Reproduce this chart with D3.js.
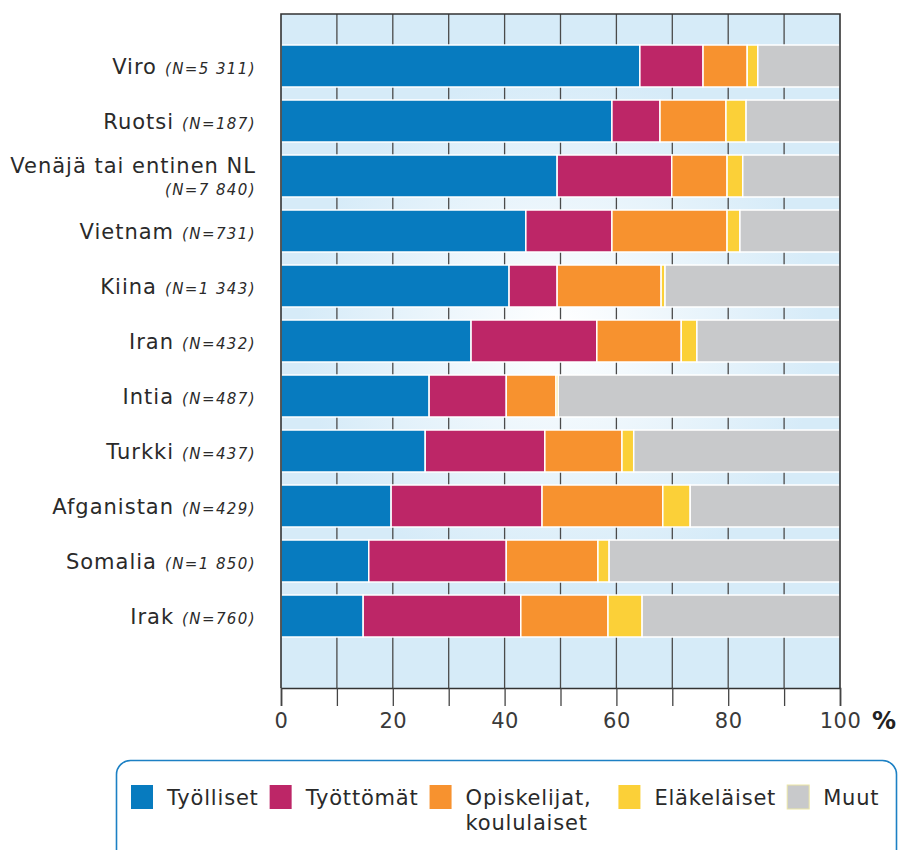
<!DOCTYPE html>
<html>
<head>
<meta charset="utf-8">
<script src="https://cdn.jsdelivr.net/npm/d3@7"></script>
<style>
  body { margin: 0; background: #fff; }
  svg { display: block; }
</style>
</head>
<body>
<script>
// maat ja otoskoot
var countries = ["Viro", "Ruotsi", "Venäjä tai entinen NL", "Vietnam", "Kiina", "Iran",
                 "Intia", "Turkki", "Afganistan", "Somalia", "Irak"];
var sampleSizes = ["(N=5 311)", "(N=187)", "(N=7 840)", "(N=731)", "(N=1 343)", "(N=432)",
                   "(N=487)", "(N=437)", "(N=429)", "(N=1 850)", "(N=760)"];

// osuudet prosentteina
var tyolliset   = [64.2, 59.2, 49.4, 43.8, 40.8, 34.0, 26.5, 25.8, 19.7, 15.7, 14.7];
var tyottomat   = [11.3,  8.6, 20.5, 15.4,  8.6, 22.5, 13.8, 21.4, 27.0, 24.6, 28.2];
var opiskelijat = [ 7.9, 11.8,  9.9, 20.6, 18.6, 15.1,  8.9, 13.8, 21.6, 16.4, 15.6];
var elakelaiset = [ 1.9,  3.6,  2.8,  2.3,  0.7,  2.8,  0.4,  2.1,  4.9,  2.0,  6.1];
var muut        = [14.7, 16.8, 17.4, 17.9, 31.3, 25.6, 50.4, 36.9, 26.8, 41.3, 35.4];

var seriesKeys = ["tyolliset", "tyottomat", "opiskelijat", "elakelaiset", "muut"];
var seriesNames = [["Työlliset"], ["Työttömät"], ["Opiskelijat,", "koululaiset"], ["Eläkeläiset"], ["Muut"]];
var seriesColors = ["#077bbf", "#bd2667", "#f7922f", "#fbd038", "#c8c9cb"];
var xTicks = [0, 10, 20, 30, 40, 50, 60, 70, 80, 90, 100];

var width = 902, height = 850;
var plotTop = 14, plotBottom = 688, plotLeft = 281, plotRight = 840;
var labelFont = "'DejaVu Sans', Verdana, sans-serif";
var textColor = "#2a2a2a";

var rows = countries.map(function (c, i) {
    return {
        country: c, n: sampleSizes[i],
        tyolliset: tyolliset[i], tyottomat: tyottomat[i], opiskelijat: opiskelijat[i],
        elakelaiset: elakelaiset[i], muut: muut[i]
    };
});

var svg = d3.select("body").append("svg").attr("width", width).attr("height", height);

var x = d3.scaleLinear().domain([0, 100]).range([plotLeft, plotRight]);
var y = d3.scaleBand().domain(countries)
          .range([38.5, 643.5])
          .paddingInner(13 / 55)
          .paddingOuter(6.5 / 55);
var color = d3.scaleOrdinal().domain(seriesKeys).range(seriesColors);

// tausta
var defs = svg.append("defs");
var grad = defs.append("radialGradient").attr("id", "bgGrad")
               .attr("gradientUnits", "userSpaceOnUse")
               .attr("cx", 560).attr("cy", 330).attr("r", 260);
grad.append("stop").attr("offset", "0%").attr("stop-color", "#ffffff");
grad.append("stop").attr("offset", "100%").attr("stop-color", "#d6ebf8");

svg.append("rect")
   .attr("x", plotLeft).attr("y", plotTop)
   .attr("width", plotRight - plotLeft).attr("height", plotBottom - plotTop)
   .attr("fill", "url(#bgGrad)");

// pystyviivat
svg.append("g").attr("class", "grid")
   .selectAll("line")
   .data(xTicks.slice(1, -1))
   .enter().append("line")
   .attr("x1", function (d) { return x(d); })
   .attr("x2", function (d) { return x(d); })
   .attr("y1", plotTop).attr("y2", plotBottom)
   .attr("stroke", "#4a4a4a").attr("stroke-width", 1.3);

// pinotut palkit
var stacked = d3.stack().keys(seriesKeys)(rows);

svg.append("g").attr("class", "bars")
   .selectAll("g")
   .data(stacked)
   .enter().append("g")
   .attr("fill", function (d) { return color(d.key); })
   .selectAll("rect")
   .data(function (d) { return d; })
   .enter().append("rect")
   .attr("x", function (d) { return x(d[0]); })
   .attr("y", function (d) { return y(d.data.country); })
   .attr("width", function (d) { return x(d[1]) - x(d[0]); })
   .attr("height", y.bandwidth())
   .attr("stroke", "#ffffff")
   .attr("stroke-width", 1.5);

// kehys
svg.append("path")
   .attr("d", "M" + plotLeft + "," + plotBottom + "V" + plotTop + "H" + plotRight + "V" + plotBottom)
   .attr("fill", "none").attr("stroke", "#333").attr("stroke-width", 1.6);

// x-akseli
var xAxis = d3.axisBottom(x)
              .tickValues(xTicks)
              .tickSize(18)
              .tickPadding(7)
              .tickFormat(function (d) { return d % 20 === 0 ? d : ""; });

var axisG = svg.append("g")
               .attr("transform", "translate(0," + plotBottom + ")")
               .call(xAxis);
axisG.select(".domain").attr("stroke", "#333").attr("stroke-width", 1.6);
axisG.selectAll(".tick line").attr("stroke", "#444").attr("stroke-width", 1.3);
axisG.selectAll(".tick text")
     .attr("font-family", labelFont)
     .attr("font-size", 21)
     .attr("fill", "#3a3a3a")
     .attr("letter-spacing", "0.5px");

svg.append("text")
   .attr("x", 872).attr("y", 729)
   .attr("font-family", labelFont)
   .attr("font-size", 24).attr("font-weight", "bold")
   .attr("fill", "#222")
   .text("%");

// maiden nimet
var labels = svg.append("g").attr("class", "labels")
                .selectAll("text")
                .data(rows)
                .enter().append("text")
                .attr("text-anchor", "end")
                .attr("font-family", labelFont)
                .attr("fill", textColor)
                .attr("y", function (d) { return y(d.country) + y.bandwidth() / 2 + 8; });

labels.each(function (d) {
    var t = d3.select(this);
    var twoLines = d.country.length > 15;
    if (twoLines) {
        t.attr("y", y(d.country) + y.bandwidth() / 2 - 3);
    }
    t.append("tspan")
     .attr("x", 256)
     .attr("font-size", 21)
     .attr("letter-spacing", "1px")
     .text(d.country);
    var n = t.append("tspan")
             .attr("font-size", 15)
             .attr("font-style", "italic")
             .attr("letter-spacing", "1.4px")
             .text(d.n);
    if (twoLines) {
        n.attr("x", 256).attr("dy", 22);
    } else {
        n.attr("dx", 8);
    }
});

// selite
svg.append("rect")
   .attr("x", 116.5).attr("y", 760.5)
   .attr("width", 780).attr("height", 130)
   .attr("rx", 14)
   .attr("fill", "#fff")
   .attr("stroke", "#1c80c4").attr("stroke-width", 1.6);

var legend = svg.append("g").attr("class", "legend");
var lx = 131;
seriesKeys.forEach(function (key, i) {
    var item = legend.append("g").attr("transform", "translate(" + lx + ",785)");
    item.append("rect")
        .attr("width", 22).attr("height", 24)
        .attr("fill", color(key))
        .attr("stroke", key === "muut" ? "#ebe6a6" : "none")
        .attr("stroke-width", 1);
    var txt = item.append("text")
                  .attr("font-family", labelFont)
                  .attr("font-size", 21)
                  .attr("letter-spacing", "0.8px")
                  .attr("fill", textColor);
    seriesNames[i].forEach(function (line, j) {
        txt.append("tspan").attr("x", 36).attr("y", 20 + j * 25).text(line);
    });
    var w = d3.max(txt.selectAll("tspan").nodes(), function (n) { return n.getComputedTextLength(); });
    lx += 36 + w + (seriesNames[i].length > 1 ? 27 : 11);
});
</script>
</body>
</html>
